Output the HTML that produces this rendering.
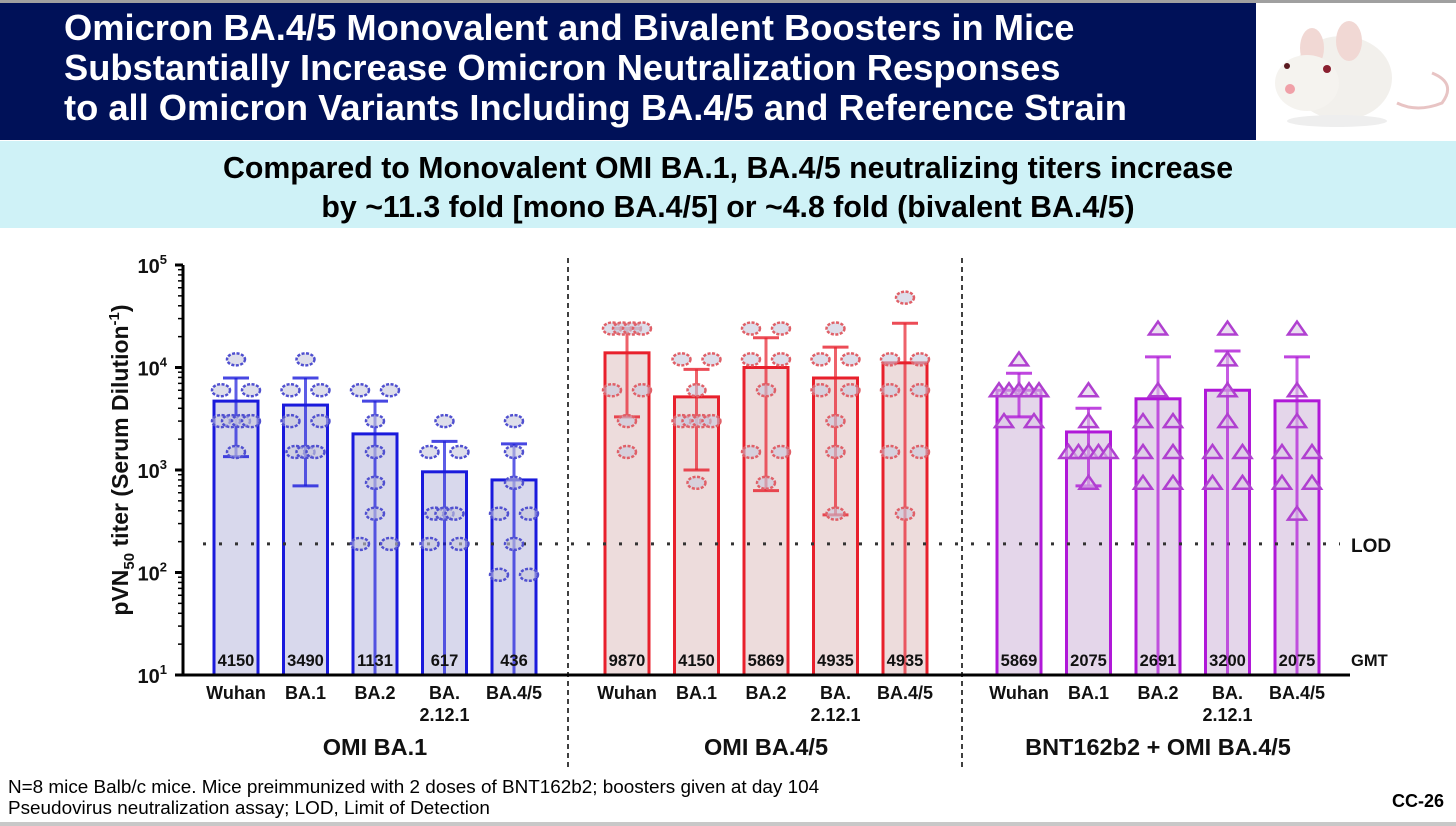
<!DOCTYPE html>
<html><head><meta charset="utf-8"><style>
html,body{margin:0;padding:0;background:#fff;}
body{width:1456px;height:826px;position:relative;overflow:hidden;font-family:"Liberation Sans",Arial,sans-serif;}
#hdr{position:absolute;left:0;top:3px;width:1256px;height:137px;background:#001158;color:#fff;font-weight:bold;font-size:36.3px;line-height:40px;box-sizing:border-box;padding:5px 0 0 64px;white-space:nowrap;overflow:hidden;}
#topline{position:absolute;left:0;top:0;width:1456px;height:3px;background:#a0a0a0;}
#mouse{position:absolute;left:1257px;top:3px;width:199px;height:137px;background:#fff;}
#sub{position:absolute;left:0;top:141px;width:1456px;height:87px;background:#cff2f7;text-align:center;font-weight:bold;font-size:30.3px;line-height:39px;padding-top:8px;box-sizing:border-box;color:#000;white-space:nowrap;}
#foot{position:absolute;left:8px;top:777px;font-size:18.9px;line-height:21px;color:#000;white-space:nowrap;}
#cc{position:absolute;right:12px;top:791px;font-size:18px;font-weight:bold;}
#botline{position:absolute;left:0;top:822px;width:1456px;height:4px;background:#c8c8c8;}
svg{position:absolute;left:0;top:0;}
</style></head><body>
<div id="topline"></div>
<div id="hdr">Omicron BA.4/5 Monovalent and Bivalent Boosters in Mice<br>Substantially Increase Omicron Neutralization Responses<br>to all Omicron Variants Including BA.4/5 and Reference Strain</div>
<div id="mouse">
<svg width="199" height="137" viewBox="0 0 199 137" style="position:absolute;left:0;top:0">
<path d="M175 70 Q200 80 185 100 Q160 110 140 100" stroke="#e8c4c4" stroke-width="3" fill="none"/>
<ellipse cx="85" cy="75" rx="50" ry="42" fill="#f2f0ec"/>
<ellipse cx="55" cy="45" rx="12" ry="20" fill="#f1d8d4"/>
<ellipse cx="92" cy="38" rx="13" ry="20" fill="#f1d8d4"/>
<ellipse cx="50" cy="80" rx="32" ry="28" fill="#f5f3ef"/>
<circle cx="70" cy="66" r="4" fill="#8a2030"/>
<circle cx="30" cy="63" r="3" fill="#5a1a20"/>
<circle cx="33" cy="86" r="5" fill="#f0a0a8"/>
<ellipse cx="80" cy="118" rx="50" ry="6" fill="#eee"/>
</svg></div>
<div id="sub">Compared to Monovalent OMI BA.1, BA.4/5 neutralizing titers increase<br>by ~11.3 fold [mono BA.4/5] or ~4.8 fold (bivalent BA.4/5)</div>

<svg id="chart" width="1456" height="826"></svg>

<div id="foot">N=8 mice Balb/c mice. Mice preimmunized with 2 doses of BNT162b2; boosters given at day 104<br>Pseudovirus neutralization assay; LOD, Limit of Detection</div>
<div id="cc">CC-26</div>
<div id="botline"></div>

<script>
const groups = ["OMI BA.1", "OMI BA.4/5", "BNT162b2 + OMI BA.4/5"];
const variants = ["Wuhan", "BA.1", "BA.2", "BA.\n2.12.1", "BA.4/5"];
const gmtLabels = [[4150,3490,1131,617,436],[9870,4150,5869,4935,4935],[5869,2075,2691,3200,2075]];
const barValues = [[4700,4300,2250,960,800],[13900,5170,10000,7900,11100],[6000,2350,4950,6000,4730]];
const errUpper = [[7900,7900,4700,1900,1800],[24000,9600,19500,15800,27000],[8800,4000,12700,14500,12700]];
const errLower = [[1350,700,10,10,10],[3300,1000,630,365,10],[3300,700,10,10,10]];
const points = [
 [[12000,6000,6000,3000,3000,3000,3000,1500],[12000,6000,6000,3000,3000,1500,1500,1500],[6000,6000,3000,1500,750,375,190,190],[3000,1500,1500,375,375,375,190,190],[3000,1500,750,375,375,190,95,95]],
 [[24000,24000,24000,24000,6000,6000,3000,1500],[12000,12000,6000,3000,3000,3000,3000,750],[24000,24000,12000,12000,6000,1500,1500,750],[24000,12000,12000,6000,6000,3000,1500,375],[48000,12000,12000,6000,6000,1500,1500,375]],
 [[12000,6000,6000,6000,6000,6000,3000,3000],[6000,3000,1500,1500,1500,1500,1500,750],[24000,6000,3000,3000,1500,1500,750,750],[24000,12000,6000,3000,1500,1500,750,750],[24000,6000,3000,1500,1500,750,750,375]]
];
const yTicks = [1,2,3,4,5];
const lodValue = 190;

const NS="http://www.w3.org/2000/svg";
const svg=document.getElementById('chart');
const axX=183, yTop=265, yBot=675, decade=102.5;
const groupStart=[236,627,1019], slot=69.5, barW=44;
const stroke=["#1a1adc","#e8202c","#b018d8"], fill=["#d8d8ec","#eddcdc","#e4d6ea"], ptc=["#5050d0","#e06068","#b040d0"];
function y(v){return yBot-(Math.log10(v)-1)*decade;}
function xc(g,i){return groupStart[g]+i*slot;}
function mk(tag,attrs){const e=document.createElementNS(NS,tag);for(const k in attrs)e.setAttribute(k,attrs[k]);svg.appendChild(e);return e;}
function txt(x,yy,s,attrs){const t=mk('text',Object.assign({x:x,y:yy,'font-family':'Liberation Sans, Arial, sans-serif'},attrs));t.textContent=s;return t;}

for(let g=0;g<3;g++){for(let i=0;i<5;i++){
 const cx=xc(g,i), top=y(barValues[g][i]);
 const b=mk('rect',{x:cx-barW/2,y:top,width:barW,height:yBot-top,fill:fill[g],stroke:stroke[g],'stroke-width':3});
 
 
}}
const lod=mk('line',{x1:axX+20,x2:1340,y1:y(lodValue),y2:y(lodValue),stroke:'#333','stroke-width':3,'stroke-dasharray':'3 13'});


for(let g=0;g<3;g++){for(let i=0;i<5;i++){
 const cx=xc(g,i), yu=y(errUpper[g][i]), yl=Math.min(y(errLower[g][i]),yBot);
 const e=mk('line',{x1:cx,x2:cx,y1:yu,y2:yl,stroke:stroke[g],'stroke-width':3,opacity:0.7});
 
 
 mk('line',{x1:cx-13,x2:cx+13,y1:yu,y2:yu,stroke:stroke[g],'stroke-width':3,opacity:0.8});
 if(errLower[g][i]>10) mk('line',{x1:cx-13,x2:cx+13,y1:yl,y2:yl,stroke:stroke[g],'stroke-width':3,opacity:0.8});
 const counts={};points[g][i].forEach(v=>counts[v]=(counts[v]||0)+1);
 for(const v in counts){const n=counts[v];
  for(let k=0;k<n;k++){
   let off = n===1?0:(n===2?(k===0?-15:15):(k-(n-1)/2)*10);
   const px=cx+off, py=y(+v);
   let p;
   if(g<2){p=mk('ellipse',{cx:px,cy:py,rx:9,ry:6,fill:'rgba(200,200,220,0.6)',stroke:ptc[g],'stroke-width':2.5,'stroke-dasharray':'3 1.5'});}
   else{p=mk('polygon',{points:(px-9)+','+(py+6)+' '+(px+9)+','+(py+6)+' '+px+','+(py-7),fill:'rgba(220,200,230,0.6)',stroke:ptc[g],'stroke-width':2.5});}
   
   
  }}
 const gt=txt(cx,666,String(gmtLabels[g][i]),{'font-size':16.5,'font-weight':'bold','text-anchor':'middle',fill:'#111'});
 
 
 const parts=variants[i].split('\n');
 parts.forEach((s,k)=>{const vt=txt(cx,699+k*22,s,{'font-size':18,'font-weight':'bold','text-anchor':'middle',fill:'#111'});
  
  });
}
 const gl=txt(xc(g,2),755,groups[g],{'font-size':23.5,'font-weight':'bold','text-anchor':'middle',fill:'#111'});
 
 
}
const ya=mk('line',{x1:axX,x2:axX,y1:yTop,y2:yBot+1,stroke:'#000','stroke-width':3});


const xa=mk('line',{x1:axX-7,x2:1350,y1:yBot,y2:yBot,stroke:'#000','stroke-width':3});


yTicks.forEach(p=>{
 const yy=y(Math.pow(10,p));
 mk('line',{x1:axX-8,x2:axX,y1:yy,y2:yy,stroke:'#000','stroke-width':3});
 if(p<5)for(let m=2;m<10;m++){const ym=y(m*Math.pow(10,p));mk('line',{x1:axX-5,x2:axX,y1:ym,y2:ym,stroke:'#000','stroke-width':1.5});}
 const t=txt(axX-16,yy+8,'10',{'font-size':20,'font-weight':'bold','text-anchor':'end',fill:'#111'});
 const s=document.createElementNS(NS,'tspan');s.setAttribute('dy','-9');s.setAttribute('font-size','13');s.textContent=String(p);t.appendChild(s);
 
 
});
[568,962].forEach(x=>{const s=mk('line',{x1:x,x2:x,y1:258,y2:770,stroke:'#000','stroke-width':1.5,'stroke-dasharray':'5 4'});
 
 });
const yt=txt(0,0,'',{'font-size':23,'font-weight':'bold','text-anchor':'middle',fill:'#111',transform:'translate(128,460) rotate(-90)'});
yt.innerHTML='pVN<tspan font-size="15" dy="6">50</tspan><tspan dy="-6"> titer (Serum Dilution</tspan><tspan font-size="15" dy="-9">-1</tspan><tspan dy="9">)</tspan>';


const lt=txt(1351,552,'LOD',{'font-size':19,'font-weight':'bold',fill:'#111'});


const gm=txt(1351,666,'GMT',{'font-size':16.5,'font-weight':'bold',fill:'#111'});


</script>
</body></html>
